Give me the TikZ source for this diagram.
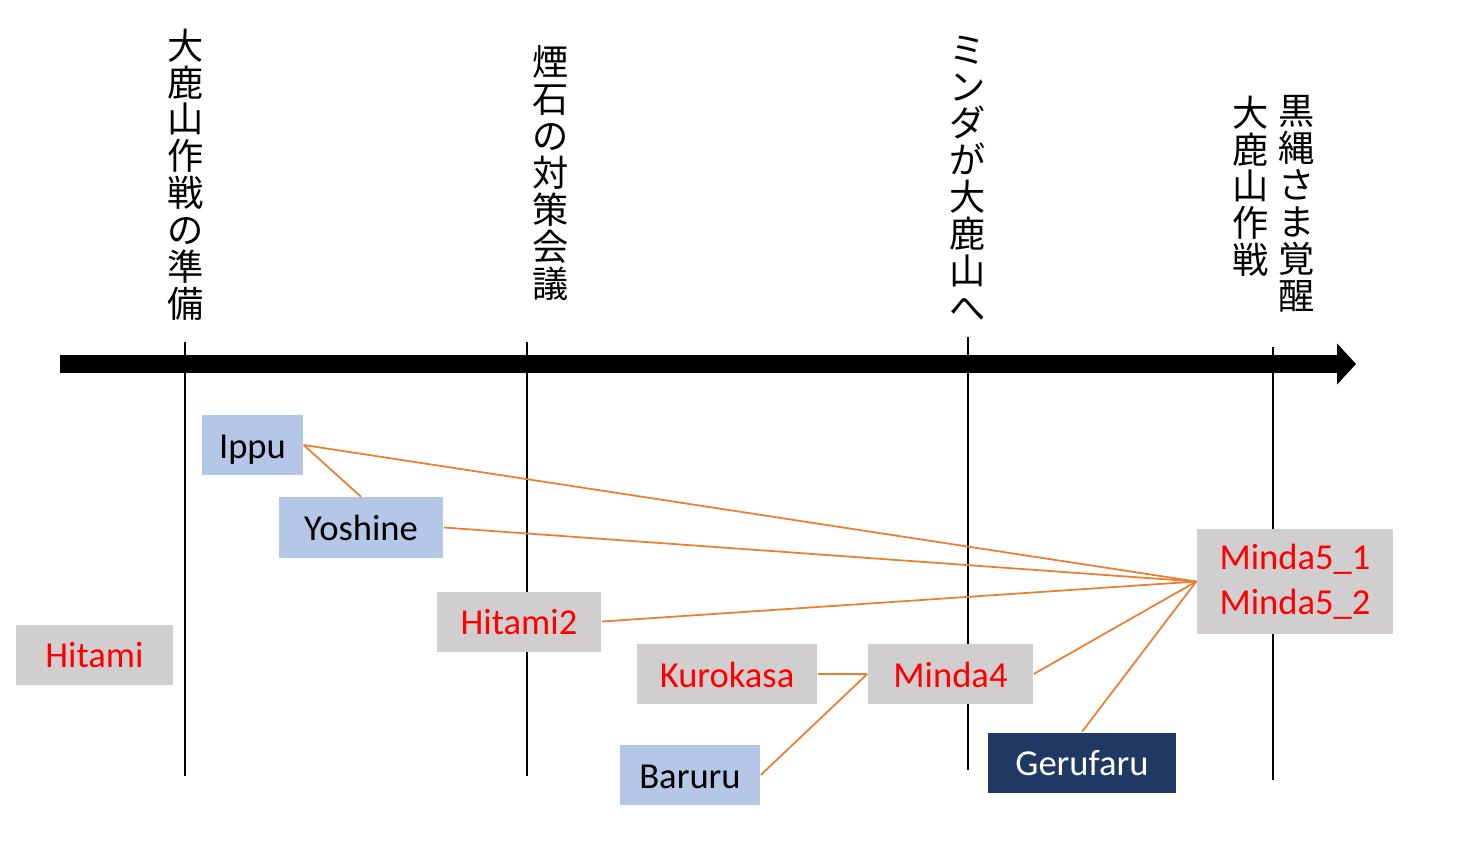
\documentclass[tikz,border=0pt]{standalone}
\usepackage{fontspec}
\setmainfont{Carlito}
\newfontfamily\jpfont{Noto Sans CJK JP}
\usepackage{tikz}
\usetikzlibrary{arrows.meta}

\definecolor{boxblue}{HTML}{B4C7E7}
\definecolor{boxgrey}{HTML}{D0CECE}
\definecolor{boxnavy}{HTML}{203864}
\definecolor{linkorange}{HTML}{ED7D31}

\begin{document}
\begin{tikzpicture}[
    x=0.01cm, y=-0.01cm,
    namebox/.style={inner sep=0pt, minimum height=0.6cm, text height=0.32cm, text depth=0.06cm, font=\fontsize{10.4}{12.8}\selectfont},
    bluebox/.style={namebox, fill=boxblue, text=black},
    greybox/.style={namebox, fill=boxgrey, text=red},
    navybox/.style={namebox, fill=boxnavy, text=white},
    eventlab/.style={font=\jpfont\fontsize{10.3}{10.5}\selectfont, align=center, anchor=north, inner sep=0pt},
    tick/.style={line width=0.4pt},
    link/.style={draw=linkorange, line width=0.5pt},
    timeaxis/.style={line width=0.18cm, -{Triangle[length=0.19cm, width=0.4cm]}},
]
\useasboundingbox (0,0) rectangle (1474,845);

% Event ticks on the time axis
\draw[tick] (185,342) -- (185,776);
\draw[tick] (527,342) -- (527,776);
\draw[tick] (968,337) -- (968,770);
\draw[tick] (1273,347) -- (1273,780);

% Time axis
\draw[timeaxis] (60,364) -- (1356,364);

% Event labels (vertical)
\node[eventlab] (ev1) at (186,28) {大\\鹿\\山\\作\\戦\\の\\準\\備};
\node[eventlab] (ev2) at (551,45) {煙\\石\\の\\対\\策\\会\\議};
\node[eventlab] (ev3) at (968,35) {ミ\\ン\\ダ\\が\\大\\鹿\\山\\へ};
\node[eventlab] (ev4) at (1297,95) {黒\\縄\\さ\\ま\\覚\\醒};
\node[eventlab] (ev5) at (1251,95) {大\\鹿\\山\\作\\戦};

% Characters
\node[bluebox, minimum width=1.01cm] (ippu) at (252.5,445) {Ippu};
\node[bluebox, minimum width=1.64cm] (yoshine) at (361,527.5) {Yoshine};
\node[greybox, minimum width=1.64cm] (hitami2) at (519,621.5) {Hitami2};
\node[greybox, minimum width=1.57cm] (hitami) at (94.5,654.5) {Hitami};
\node[greybox, minimum width=1.80cm] (kurokasa) at (727,674) {Kurokasa};
\node[greybox, minimum width=1.65cm] (minda4) at (950.5,674) {Minda4};
\node[bluebox, minimum width=1.40cm] (baruru) at (690,775) {Baruru};
\node[navybox, minimum width=1.88cm] (gerufaru) at (1082,762.5) {Gerufaru};
\node[fill=boxgrey, text=red, inner sep=0pt, font=\fontsize{10.4}{12.8}\selectfont,
      minimum width=1.96cm, minimum height=1.05cm, align=center] (minda5) at (1295,581.5) {Minda5\_1\\Minda5\_2};

% Links into Minda5
\draw[link] (ippu.east) -- (minda5.west);
\draw[link] (yoshine.east) -- (minda5.west);
\draw[link] (hitami2.east) -- (minda5.west);
\draw[link] (minda4.east) -- (minda5.west);
\draw[link] (gerufaru.north) -- (minda5.west);

% Other links
\draw[link] (ippu.east) -- (yoshine.north);
\draw[link] (kurokasa.east) -- (minda4.west);
\draw[link] (baruru.east) -- (minda4.west);
\end{tikzpicture}
\end{document}
